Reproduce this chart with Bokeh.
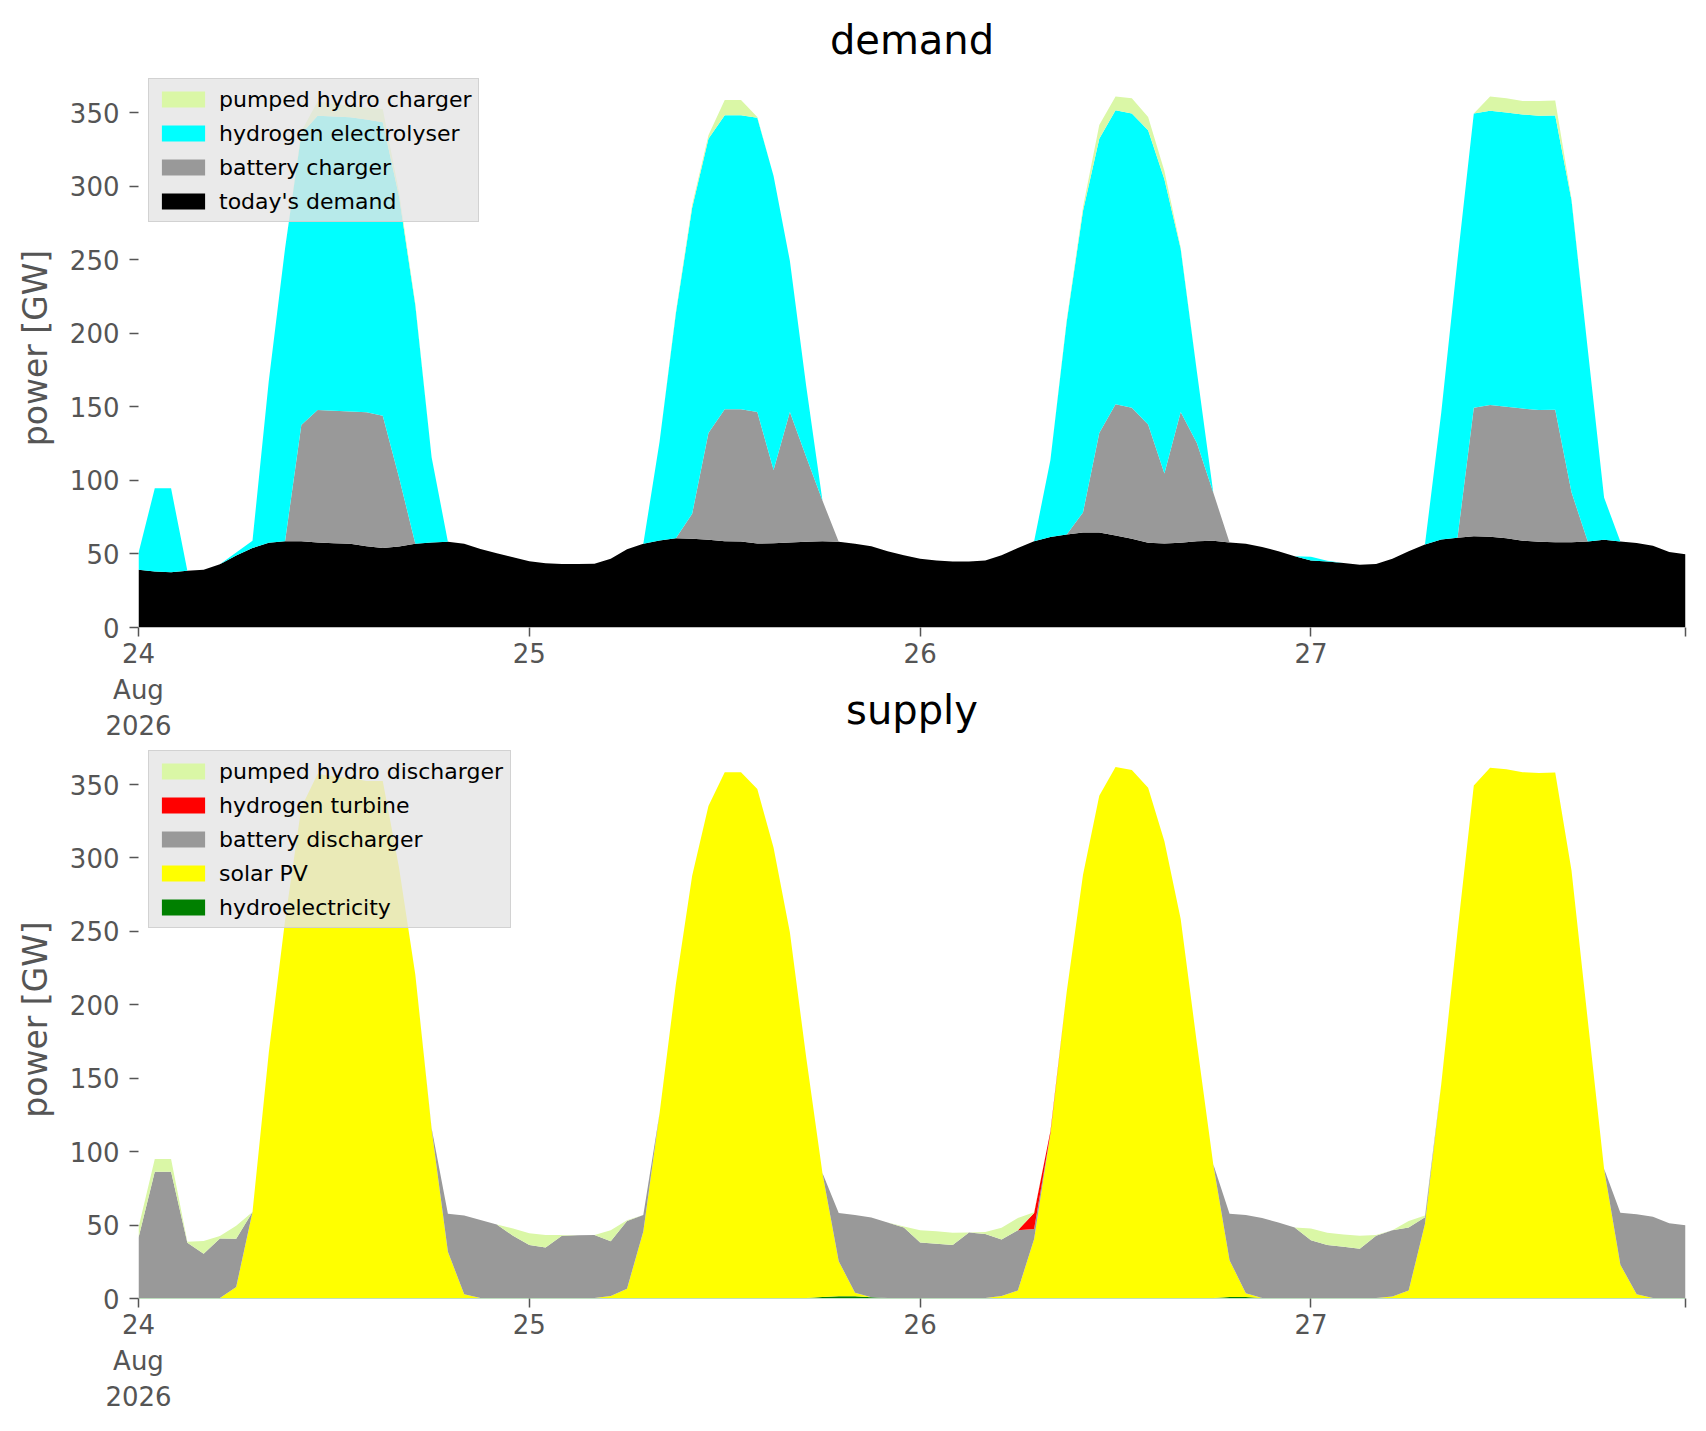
import pandas as pd
from bokeh.plotting import figure
from bokeh.models import (ColumnDataSource, Range1d, FixedTicker, Legend,
                          LegendItem)
from bokeh.layouts import column
from bokeh.embed import file_html
from bokeh.resources import INLINE

# ---------------- data (GW, hourly, 24-27 Aug 2026) ----------------
hours = pd.date_range("2026-08-24 00:00", periods=96, freq="h")

todays_demand = [
    39.2, 38.0, 37.6, 38.5, 39.2, 43.0, 49.0, 54.0, 57.6, 58.7, 58.7, 57.8,
    57.3, 56.9, 55.3, 54.0, 55.0, 57.0, 57.8, 58.3, 56.9, 53.4, 50.5, 47.7,
    45.0, 43.6, 43.1, 43.1, 43.3, 46.8, 53.2, 56.9, 59.2, 60.6, 60.3, 59.6,
    58.7, 58.5, 57.1, 57.3, 57.8, 58.3, 58.7, 58.3, 56.9, 55.2, 51.8, 49.1,
    46.8, 45.6, 44.9, 44.9, 45.6, 49.1, 54.1, 58.7, 61.5, 63.3, 64.5, 64.5,
    62.6, 60.3, 57.6, 57.1, 57.6, 58.7, 59.0, 57.8, 56.9, 54.8, 51.8, 48.4,
    45.6, 44.9, 43.8, 42.6, 43.1, 46.8, 51.8, 56.4, 59.9, 61.0, 62.1, 61.7,
    60.6, 59.0, 58.3, 58.0, 57.9, 58.4, 59.7, 58.4, 57.4, 55.6, 51.3, 49.8]

battery_charger = [
    0, 0, 0, 0, 0, 0, 0, 0, 0, 0, 79, 90, 90, 90, 91, 90, 47, 0, 0, 0, 0, 0, 0, 0,
    0, 0, 0, 0, 0, 0, 0, 0, 0, 0, 17, 72.6, 89.6, 89.8, 89.4, 49.7, 88.7, 57.7,
    27.6, 0, 0, 0, 0, 0,
    0, 0, 0, 0, 0, 0, 0, 0, 0, 0, 13.7, 67.7, 89.1, 89.1, 80.4, 47.6, 88.9, 66.6,
    32.8, 0, 0, 0, 0, 0,
    0, 0, 0, 0, 0, 0, 0, 0, 0, 0, 87.3, 89.6, 89.5, 89.8, 89.6, 90, 34,
    0, 0, 0, 0, 0, 0, 0]

hydrogen_electrolyser = [
    11.4, 56.7, 57.0, 0, 0, 0, 2, 5, 110, 199, 198, 200, 200, 200, 199, 199.5,
    191, 162, 58, 0, 0, 0, 0, 0,
    0, 0, 0, 0, 0, 0, 0, 0, 67.2, 153, 208, 200, 200, 200, 200, 200, 102.8, 48.3,
    0, 0, 0, 0, 0, 0,
    0, 0, 0, 0, 0, 0, 0, 0, 52.3, 144.7, 205, 200, 200, 200, 200, 200, 110.9, 48.2,
    0, 0, 0, 0, 0, 0,
    2.5, 0.5, 0, 0, 0, 0, 0, 0, 86, 189, 200, 200, 200, 200, 200, 200, 198.6,
    130.6, 28.6, 0, 0, 0, 0, 0]

pumped_hydro_charger = [
    0, 0, 0, 0, 0, 0, 0, 0, 0, 0, 1.5, 10, 8.5, 8, 8, 9, 3, 1, 0, 0, 0, 0, 0, 0,
    0, 0, 0, 0, 0, 0, 0, 0, 0, 1, 2, 2.5, 10.3, 10.3, 0.5, 0, 0, 0, 0, 0, 0, 0, 0, 0,
    0, 0, 0, 0, 0, 0, 0, 0, 0, 1, 2.4, 9.4, 9.2, 10.3, 9, 5.7, 1, 0, 0, 0, 0, 0, 0, 0,
    0, 0, 0, 0, 0, 0, 0, 0, 0, 0, 0, 9.6, 9.6, 9.1, 10, 10.2, 1, 0, 0, 0, 0, 0, 0, 0]

hydroelectricity = [0.4] * 96
for _h, _v in {42: 1.0, 43: 1.5, 44: 1.5, 45: 0.8, 67: 1.0, 68: 1.0}.items():
    hydroelectricity[_h] = _v

solar_pv = [
    0, 0, 0, 0, 0, 0, 7.5, 58.5, 167, 257, 334, 357, 355, 354, 352, 352, 293, 220,
    115, 31.4, 2.5, 0, 0, 0,
    0, 0, 0, 0, 0, 1.3, 6.3, 45.3, 126, 213.7, 287.5, 335, 358, 358, 346.5, 306.5,
    249, 164, 84.5, 23.9, 2.5, 0, 0, 0,
    0, 0, 0, 0, 0, 1.3, 5, 40.2, 112, 208.5, 288, 342, 361.5, 359.5, 347.5, 311,
    258, 173, 91, 25.1, 2.5, 0, 0, 0,
    0, 0, 0, 0, 0, 1, 5, 50.3, 145.5, 249.5, 349, 361, 360, 358, 357.5, 357.8,
    291, 189, 88, 22.6, 2.5, 0, 0, 0]

battery_discharger = [
    41, 86, 86, 37.5, 30, 40.5, 32.8, 0, 0, 0, 0, 0, 0, 0, 0, 0, 0, 0, 0.5, 26,
    53.7, 53, 50, 42.3,
    36.1, 34.3, 42.3, 42.7, 42.9, 37.3, 46.1, 11.2, 0, 0, 0, 0, 0, 0, 0, 0, 0, 0,
    0, 32.9, 52.9, 54.4, 51.4, 47.9,
    37.8, 36.8, 36.1, 44.5, 43.6, 38.5, 41.1, 6.7, 0, 0, 0, 0, 0, 0, 0, 0, 0, 0,
    0, 31.7, 53.4, 54.4, 51.4, 48,
    39.3, 36.1, 34.8, 33.5, 42.3, 45.1, 42.9, 4.6, 0, 0, 0, 0, 0, 0, 0, 0, 0, 0,
    0, 35.4, 54.5, 55.2, 50.9, 49.4]

hydrogen_turbine = [0] * 96
hydrogen_turbine[55] = 11
hydrogen_turbine[56] = 1.5

pumped_hydro_discharger = [
    7, 8.6, 8.6, 0.8, 8.8, 1.7, 8.8, 0, 0, 0, 0, 0, 0, 0, 0, 0, 0, 0, 0, 0, 0, 0, 0, 5,
    8, 8.5, 0.5, 0, 0, 7.5, 0.5, 0, 0, 0, 0, 0, 0, 0, 0, 0, 0, 0, 0, 0, 0, 0, 0, 0.8,
    8.3, 8.6, 8.3, 0, 1.3, 8, 8.3, 0.5, 0, 0, 0, 0, 0, 0, 0, 0, 0, 0, 0, 0, 0, 0, 0, 0,
    8, 8.3, 8.3, 8.8, 0.5, 0, 4.5, 1.3, 0, 0, 0, 0, 0, 0, 0, 0, 0, 0, 0, 0, 0, 0, 0, 0]

demand_names = ["today's demand", "battery charger", "hydrogen electrolyser",
                "pumped hydro charger"]
demand_colors = ["#000000", "#999999", "#00ffff", "#daf7a6"]
supply_names = ["hydroelectricity", "solar PV", "battery discharger",
                "hydrogen turbine", "pumped hydro discharger"]
supply_colors = ["#008000", "#ffff00", "#999999", "#ff0000", "#daf7a6"]

tick_days = ["2026-08-24", "2026-08-25", "2026-08-26", "2026-08-27"]
tick_labels = ["24\nAug\n2026", "25", "26", "27"]
y_ticks = [0, 50, 100, 150, 200, 250, 300, 350]

# ---------------- helpers ----------------
FONT = "DejaVu Sans"
GREY = "#555555"


def ms(ts):
    return int(pd.Timestamp(ts).value // 10**6)


t_start, t_end = ms(hours[0]), ms(hours[-1])
x_ticks = [ms(d) for d in tick_days] + [t_end]
x_overrides = {ms(d): lab for d, lab in zip(tick_days, tick_labels)}
x_overrides[t_end] = ""


def make_fig(title, min_top, frame_h, min_bottom, standoff):
    p = figure(x_axis_type="datetime", frame_width=1547, frame_height=frame_h,
               x_range=Range1d(t_start, t_end), y_range=Range1d(0, 380),
               output_backend="svg", toolbar_location=None,
               min_border_left=138, min_border_right=13,
               min_border_top=min_top, min_border_bottom=min_bottom,
               title=title)
    p.background_fill_color = "white"
    p.outline_line_color = None
    p.xgrid.visible = False
    p.ygrid.visible = False
    p.title.text_font = FONT
    p.title.text_font_size = "40px"
    p.title.text_font_style = "normal"
    p.title.text_color = "black"
    p.title.align = "center"
    p.title.standoff = standoff
    for ax in (p.xaxis[0], p.yaxis[0]):
        ax.axis_line_color = None
        ax.major_tick_line_color = GREY
        ax.major_tick_line_width = 1.5
        ax.major_tick_out = 9
        ax.major_tick_in = 0
        ax.minor_tick_line_color = None
        ax.major_label_text_font = FONT
        ax.major_label_text_font_size = "26px"
        ax.major_label_text_color = GREY
    p.xaxis.ticker = FixedTicker(ticks=x_ticks, minor_ticks=[])
    p.xaxis.major_label_overrides = x_overrides
    p.xaxis.major_label_standoff = 2
    p.yaxis.ticker = FixedTicker(ticks=y_ticks, minor_ticks=[])
    p.yaxis.major_label_standoff = 10
    p.yaxis.axis_label = "power [GW]"
    p.yaxis.axis_label_text_font = FONT
    p.yaxis.axis_label_text_font_size = "33px"
    p.yaxis.axis_label_text_font_style = "normal"
    p.yaxis.axis_label_text_color = GREY
    p.yaxis.axis_label_standoff = 12
    return p


def add_stack(p, names, colors, series):
    src = ColumnDataSource(dict(x=hours, **{n: s for n, s in zip(names, series)}))
    rs = p.varea_stack(stackers=names, x="x", color=colors, source=src)
    items = [LegendItem(label=n, renderers=[r]) for n, r in zip(names, rs)]
    leg = Legend(items=list(reversed(items)), location="top_left",
                 label_text_font=FONT, label_text_font_size="22px",
                 label_text_color="black",
                 glyph_width=54, glyph_height=20, label_height=26,
                 label_standoff=9, padding=7, spacing=8, margin=10,
                 background_fill_color="#e5e5e5", background_fill_alpha=0.8,
                 border_line_color="#cccccc", border_line_alpha=0.8,
                 border_line_width=1.5)
    p.add_layout(leg)


# ---------------- demand ----------------
p1 = make_fig("demand", 68, 559, 104, 12)
p1.border_fill_color = "white"
add_stack(p1, demand_names, demand_colors,
          [todays_demand, battery_charger, hydrogen_electrolyser,
           pumped_hydro_charger])

# ---------------- supply ----------------
# its title sits beside the date labels of the upper panel, as in the original,
# so this panel overlaps the lower border of the upper one (transparent border)
p2 = make_fig("supply", 64, 558, 110, 16)
p2.border_fill_alpha = 0
p2.margin = (-67, 0, 0, 0)
add_stack(p2, supply_names, supply_colors,
          [hydroelectricity, solar_pv, battery_discharger, hydrogen_turbine,
           pumped_hydro_discharger])

layout = column(p1, p2, spacing=0)
open("out.html", "w").write(file_html(layout, INLINE))
